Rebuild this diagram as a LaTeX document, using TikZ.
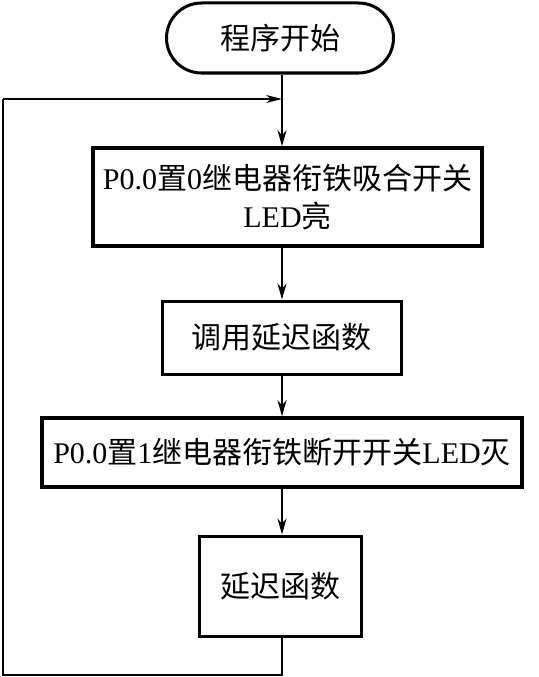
\documentclass[tikz,border=0pt]{standalone}
\usepackage{fontspec}
\setmainfont{Liberation Serif}
\newfontfamily\cjk{Noto Sans CJK SC}
\newcommand\cn[1]{{\cjk #1}}
\usetikzlibrary{shapes.misc,arrows.meta}
\begin{document}
\begin{tikzpicture}[x=1pt,y=-1pt,
  txt/.style={font=\fontsize{30}{38}\selectfont, align=center, inner sep=0pt},
  boxA/.style={txt, draw, line width=3.6pt, rectangle},
  boxB/.style={txt, draw, line width=3pt, rectangle},
  term/.style={txt, draw, line width=3pt, rounded rectangle},
  flow/.style={line width=2.2pt, -{Stealth[length=16pt,width=9pt]}},
  loopline/.style={line width=1.6pt}]
\useasboundingbox (0,0) rectangle (538,677);
\node[term, minimum width=227pt, minimum height=70pt] (start) at (280,38) {\cn{程序开始}};
\node[boxA, minimum width=389pt, minimum height=98pt] (b1) at (287.5,197) {P0.0\cn{置}0\cn{继电器衔铁吸合开关}\\LED\cn{亮}};
\node[boxB, minimum width=239pt, minimum height=73pt] (b2) at (281.5,337.5) {\cn{调用延迟函数}};
\node[boxA, minimum width=480pt, minimum height=69pt] (b3) at (282,452.5) {P0.0\cn{置}1\cn{继电器衔铁断开开关}LED\cn{灭}};
\node[boxB, minimum width=162pt, minimum height=100pt] (b4) at (280,586) {\cn{延迟函数}};
\coordinate (j) at (282,99);
\coordinate (bl) at (3,675);
\coordinate (tl) at (3,99);
\coordinate (br) at (282,675);
\draw[flow] (start.south -| j) -- (j |- b1.north);
\draw[flow] (j |- b1.south) -- (j |- b2.north);
\draw[flow] (j |- b2.south) -- (j |- b3.north);
\draw[flow] (j |- b3.south) -- (j |- b4.north);
\draw[loopline] (j |- b4.south) -- (br) -- (bl) -- (tl);
\draw[loopline, -{Stealth[length=16pt,width=8pt]}] (tl) -- (j);
\end{tikzpicture}
\end{document}
